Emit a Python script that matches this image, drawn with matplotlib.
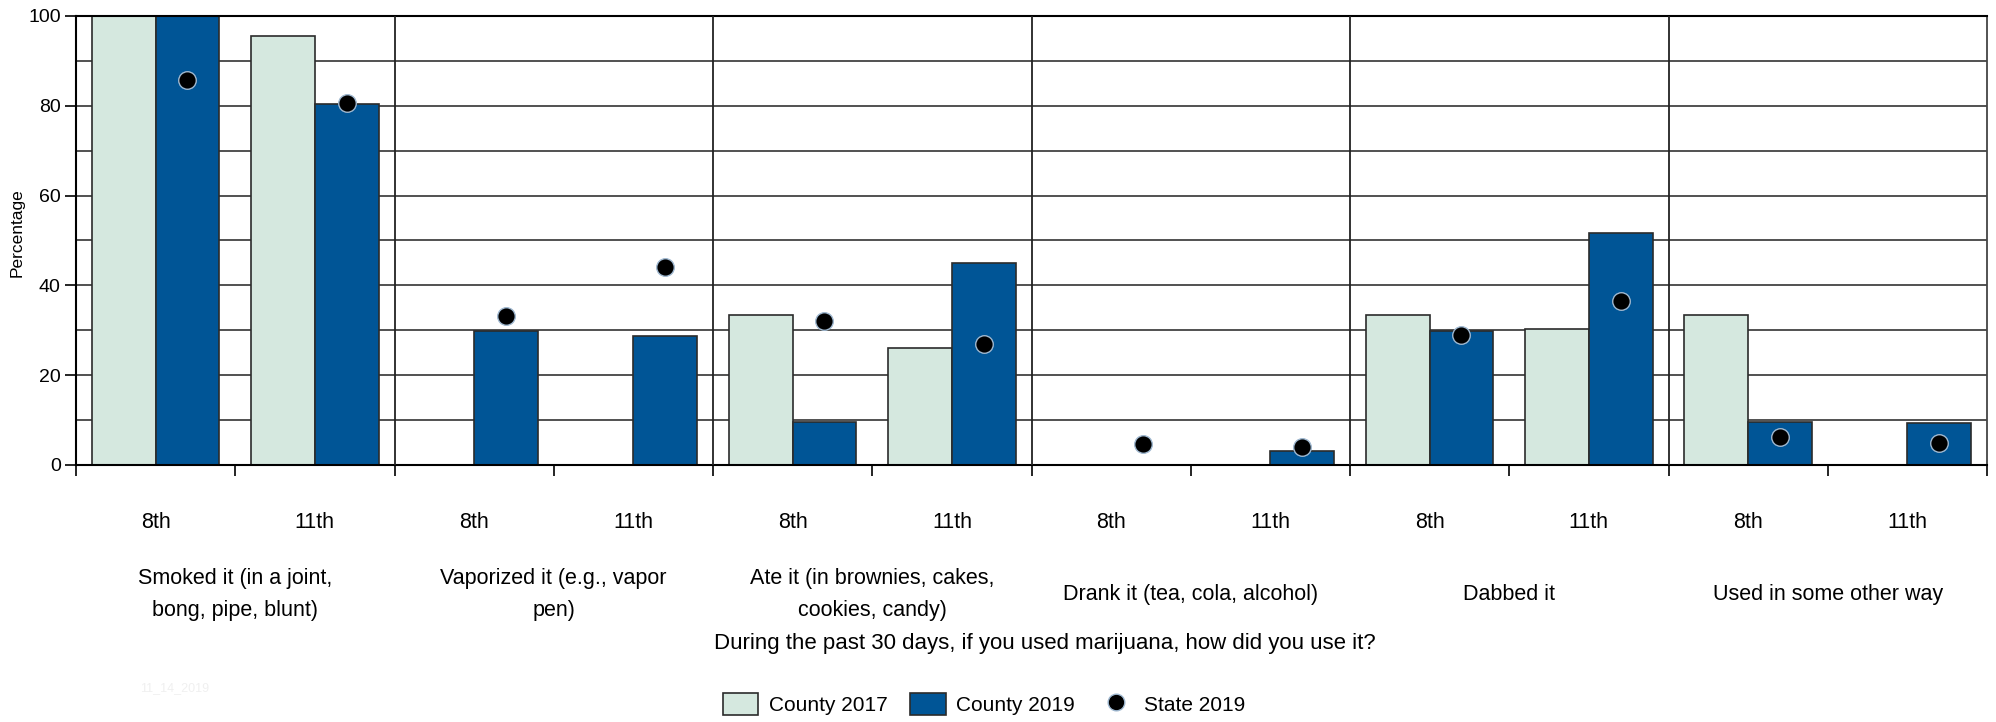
import numpy as np
import matplotlib
matplotlib.use("Agg")
import matplotlib.pyplot as plt
from matplotlib.patches import Patch
from matplotlib.lines import Line2D

plt.rcParams['font.family'] = ['Liberation Sans Narrow', 'Liberation Sans', 'DejaVu Sans']

categories = ["Smoked it (in a joint,\nbong, pipe, blunt)",
              "Vaporized it (e.g., vapor\npen)",
              "Ate it (in brownies, cakes,\ncookies, candy)",
              "Drank it (tea, cola, alcohol)",
              "Dabbed it",
              "Used in some other way"]
grades = ["8th", "11th"]

# values per category, order: 8th, 11th
county_2017 = [[100, 95.6], [0, 0], [33.3, 26.1], [0, 0], [33.3, 30.2], [33.3, 0]]
county_2019 = [[100, 80.4], [29.8, 28.7], [9.6, 45.1], [0, 3.2], [29.8, 51.6], [9.6, 9.4]]
state_2019 = [[85.7, 80.7], [33.2, 44.0], [32.1, 26.9], [4.7, 3.9], [29.0, 36.5], [6.3, 4.8]]

light = "#d5e8df"
dark = "#005596"
edge = "#2b2b2b"

fig = plt.figure(figsize=(19.96, 7.22), dpi=100)
ax = fig.add_axes([76/1996, 1-465/722, (1987-76)/1996, 449/722])

n = len(categories)
centers = []
for g in range(n):
    for k in range(2):
        centers.append(g + 0.25 + 0.5*k)
centers = np.array(centers)
c17 = np.array(county_2017).ravel()
c19 = np.array(county_2019).ravel()
s19 = np.array(state_2019).ravel()

w = 0.2
ax.bar(centers - w/2, c17, width=w, color=light, edgecolor=edge, linewidth=1.2, zorder=2)
ax.bar(centers + w/2, c19, width=w, color=dark, edgecolor=edge, linewidth=1.2, zorder=2)
ax.scatter(centers + w/2, s19, s=160, color="black", edgecolor="#9fb8d0", linewidth=1.0, zorder=4)

ax.set_xlim(0, n)
ax.set_ylim(0, 100)

# horizontal grid every 10
for v in range(10, 100, 10):
    ax.axhline(v, color="#333333", linewidth=1.2, zorder=1)
# group separators
for g in range(1, n):
    ax.axvline(g, color="#222222", linewidth=1.3, zorder=3)

ax.set_yticks(range(0, 101, 20))
ax.tick_params(axis='y', length=8, width=1.2, labelsize=14, pad=3)
ax.set_xticks(np.arange(0, n + 0.01, 0.5))
ax.set_xticklabels([])
ax.tick_params(axis='x', which='major', length=8, width=1.2, direction='out')
ax.set_xticks(centers, minor=True)
ax.set_xticklabels(grades * n, minor=True)
ax.tick_params(axis='x', which='minor', length=0, labelsize=15.5, pad=34)

for side in ['left', 'bottom', 'top']:
    ax.spines[side].set_linewidth(1.5)
    ax.spines[side].set_color("black")
ax.spines['right'].set_color("#444444")
ax.spines['right'].set_linewidth(1.3)

ax.set_ylabel("Percentage", fontsize=12.5)
ax.yaxis.set_label_coords(-0.027, 0.517)

for g, label in enumerate(categories):
    ax.text(g + 0.5, -0.288, label, transform=ax.get_xaxis_transform(),
            ha='center', va='center', fontsize=15.5, linespacing=1.65)

fig.text(1045/1996, 1-644/722, "During the past 30 days, if you used marijuana, how did you use it?",
         ha='center', va='center', fontsize=16)
fig.text(140/1996, 1-688/722, "11_14_2019", ha='left', va='center', fontsize=9, color="#f0f0f0")

handles = [Patch(facecolor=light, edgecolor=edge, linewidth=1.2),
           Patch(facecolor=dark, edgecolor=edge, linewidth=1.2),
           Line2D([], [], marker='o', linestyle='none', markersize=12,
                  markerfacecolor='black', markeredgecolor="#9fb8d0")]
fig.legend(handles, ["County 2017", "County 2019", "State 2019"], loc='center',
           bbox_to_anchor=(984/1996, 1-704/722), ncol=3, frameon=False, fontsize=15,
           handlelength=1.7, handleheight=1.25, columnspacing=1.1, handletextpad=0.5)

fig.savefig("out.png", dpi=100)
